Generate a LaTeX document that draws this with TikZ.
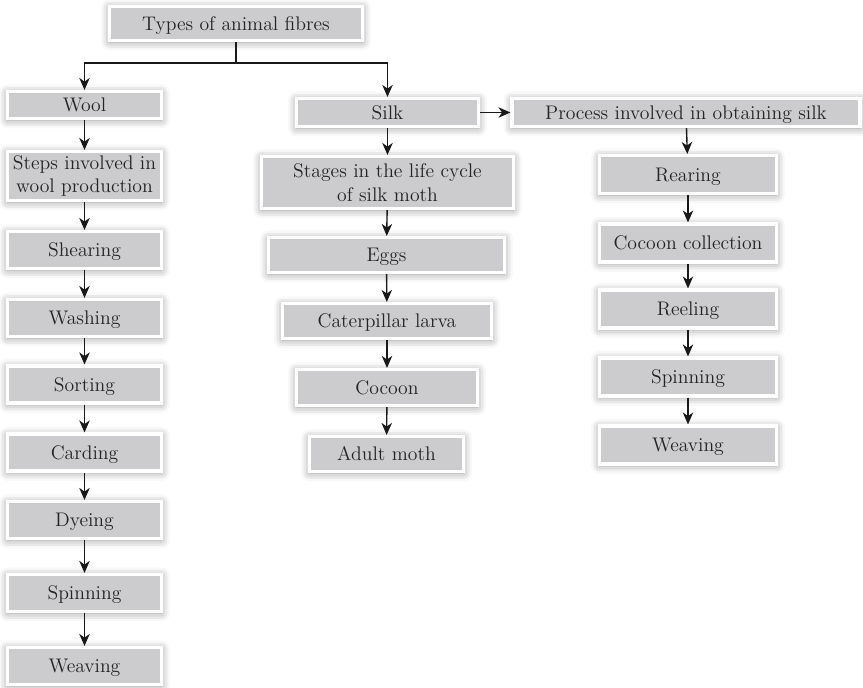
\documentclass[tikz,border=0pt]{standalone}
\usetikzlibrary{arrows.meta,shadows.blur}
\definecolor{boxgray}{RGB}{204,204,206}
\definecolor{textgray}{RGB}{35,35,35}
\tikzset{
  fibrebox/.style={draw=white, line width=2.2pt, fill=boxgray, text=textgray,
    inner sep=0pt, align=center, font=\fontsize{14}{17}\selectfont,
    text height=11pt, text depth=1.4pt,
    blur shadow={shadow xshift=0pt, shadow yshift=-1pt, shadow blur radius=6pt, shadow opacity=45}},
  twolinebox/.style={fibrebox, text height={}, text depth={}},
  flow/.style={-{Stealth[length=0.3cm,width=0.26cm,inset=0.09cm]}, line width=1pt, color=black!90}
}
\begin{document}
\begin{tikzpicture}[x=0.025cm, y=-0.025cm]
    \useasboundingbox (0,0) rectangle (863,687);
    % top of the tree
    \node[fibrebox, minimum width=253*0.025cm, minimum height=34*0.025cm] (types) at (236,23.5) {Types of animal fibres};
    \coordinate (fork) at (236,63);
    % wool column
    \node[fibrebox, minimum width=3.85cm, minimum height=27*0.025cm] (wool) at (84.5,105) {Wool};
    \node[twolinebox, minimum width=3.85cm, minimum height=49*0.025cm] (steps) at (84.5,176) {Steps involved in\\ wool production};
    \node[fibrebox, minimum width=3.85cm, minimum height=0.925cm] (shearing) at (84.5,250) {Shearing};
    \node[fibrebox, minimum width=3.85cm, minimum height=0.925cm] (washing) at (84.5,318) {Washing};
    \node[fibrebox, minimum width=3.85cm, minimum height=0.925cm] (sorting) at (84.5,384.5) {Sorting};
    \node[fibrebox, minimum width=3.85cm, minimum height=0.925cm] (carding) at (84.5,452.5) {Carding};
    \node[fibrebox, minimum width=3.85cm, minimum height=0.925cm] (dyeing) at (84.5,520) {Dyeing};
    \node[fibrebox, minimum width=3.85cm, minimum height=0.925cm] (wspinning) at (84.5,593) {Spinning};
    \node[fibrebox, minimum width=3.85cm, minimum height=0.925cm] (wweaving) at (84.5,666) {Weaving};
    % silk column
    \node[fibrebox, minimum width=182*0.025cm, minimum height=28*0.025cm] (silk) at (387.5,112.5) {Silk};
    \node[twolinebox, minimum width=252*0.025cm, minimum height=52*0.025cm] (stages) at (387.5,182.5) {Stages in the life cycle\\ of silk moth};
    \node[fibrebox, minimum width=236*0.025cm, minimum height=35*0.025cm] (eggs) at (386.5,255) {Eggs};
    \node[fibrebox, minimum width=209*0.025cm, minimum height=35*0.025cm] (larva) at (387,321) {Caterpillar larva};
    \node[fibrebox, minimum width=181*0.025cm, minimum height=36*0.025cm] (cocoon) at (387,387.5) {Cocoon};
    \node[fibrebox, minimum width=154*0.025cm, minimum height=35*0.025cm] (moth) at (386.5,454) {Adult moth};
    % process column
    \node[fibrebox, minimum width=348*0.025cm, minimum height=28*0.025cm] (process) at (686,112.5) {Process involved in obtaining silk};
    \node[fibrebox, minimum width=177*0.025cm, minimum height=38*0.025cm] (rearing) at (688,174.5) {Rearing};
    \node[fibrebox, minimum width=177*0.025cm, minimum height=38*0.025cm] (collection) at (688,243) {Cocoon collection};
    \node[fibrebox, minimum width=177*0.025cm, minimum height=38*0.025cm] (reeling) at (688,309) {Reeling};
    \node[fibrebox, minimum width=177*0.025cm, minimum height=38*0.025cm] (sspinning) at (688,377) {Spinning};
    \node[fibrebox, minimum width=177*0.025cm, minimum height=38*0.025cm] (sweaving) at (688,445) {Weaving};
    % connectors
    \draw[line width=1pt, color=black!90] (types) -- (fork);
    \draw[flow] (fork) -| (wool);
    \draw[flow] (fork) -| (silk);
    \draw[flow] (silk) -- (process);
    \foreach \a/\b in {wool/steps, steps/shearing, shearing/washing, washing/sorting, sorting/carding,
        carding/dyeing, dyeing/wspinning, wspinning/wweaving,
        silk/stages, stages/eggs, eggs/larva, larva/cocoon, cocoon/moth,
        process/rearing, rearing/collection, collection/reeling, reeling/sspinning, sspinning/sweaving}
      \draw[flow] (\a) -- (\b);
\end{tikzpicture}
\end{document}
